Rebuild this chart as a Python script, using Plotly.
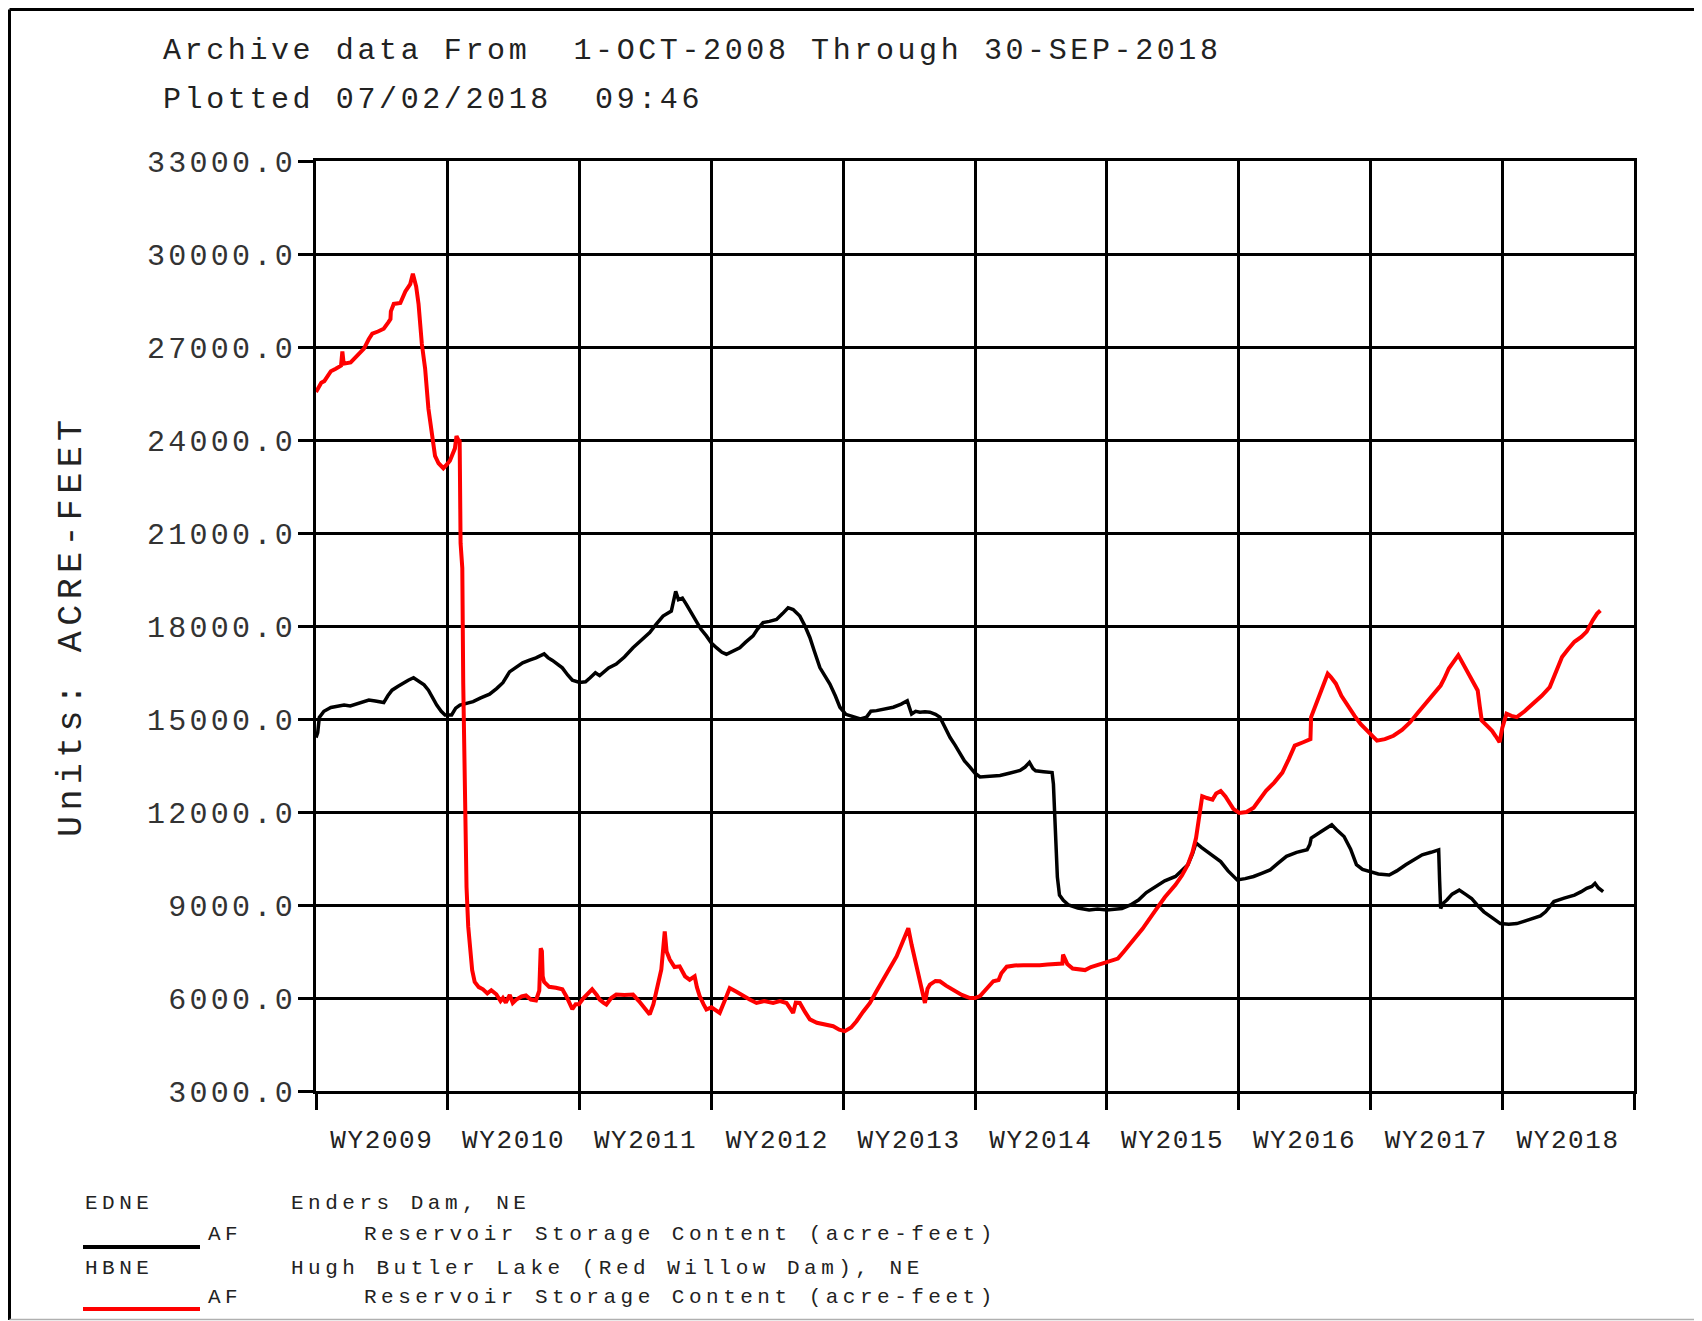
import plotly.graph_objects as go

# ---------------- data (water-year offset from 1-OCT-2008, acre-feet) ----------------
edne_t = [0.0, 0.013, 0.025, 0.06, 0.113, 0.16, 0.213, 0.26, 0.314, 0.36, 0.401, 0.45, 0.514, 0.545,
          0.577, 0.62, 0.665, 0.70, 0.74, 0.79, 0.82, 0.853, 0.88, 0.916, 0.95, 0.979, 1.029, 1.06,
          1.092, 1.14, 1.192, 1.25, 1.317, 1.37, 1.418, 1.468, 1.52, 1.568, 1.62, 1.669, 1.731, 1.76,
          1.794, 1.83, 1.869, 1.91, 1.945, 2.0, 2.045, 2.08, 2.12, 2.152, 2.22, 2.278, 2.34, 2.405,
          2.47, 2.532, 2.58, 2.633, 2.696, 2.715, 2.729, 2.75, 2.78, 2.81, 2.85, 2.886, 2.92, 2.962,
          3.0, 3.038, 3.08, 3.114, 3.16, 3.215, 3.26, 3.316, 3.35, 3.392, 3.44, 3.494, 3.54, 3.582,
          3.62, 3.671, 3.71, 3.747, 3.78, 3.823, 3.86, 3.899, 3.94, 3.975, 4.02, 4.076, 4.13, 4.177,
          4.21, 4.253, 4.32, 4.38, 4.44, 4.486, 4.50, 4.519, 4.55, 4.582, 4.62, 4.658, 4.70, 4.734,
          4.77, 4.81, 4.85, 4.886, 4.92, 4.962, 5.0, 5.038, 5.1, 5.19, 5.26, 5.342, 5.38, 5.413,
          5.44, 5.46, 5.52, 5.585, 5.595, 5.60, 5.608, 5.616, 5.625, 5.641, 5.67, 5.71, 5.78, 5.866,
          5.93, 6.0, 6.06, 6.115, 6.18, 6.24, 6.3, 6.365, 6.44, 6.521, 6.57, 6.615, 6.65, 6.677,
          6.72, 6.771, 6.82, 6.864, 6.92, 6.989, 7.05, 7.114, 7.18, 7.239, 7.30, 7.363, 7.44, 7.52,
          7.54, 7.551, 7.63, 7.707, 7.75, 7.8, 7.85, 7.894, 7.94, 7.988, 8.06, 8.143, 8.2, 8.268,
          8.33, 8.393, 8.46, 8.518, 8.525, 8.533, 8.55, 8.58, 8.62, 8.674, 8.72, 8.768, 8.81, 8.861,
          8.92, 8.986, 9.05, 9.111, 9.17, 9.236, 9.29, 9.329, 9.36, 9.392, 9.47, 9.548, 9.60, 9.641,
          9.68, 9.704, 9.73, 9.766]
edne_af = [14400, 14560, 15050, 15250, 15370, 15400, 15450, 15420, 15500, 15560, 15610, 15580, 15530, 15750,
           15930, 16050, 16170, 16250, 16330, 16170, 16100, 15930, 15700, 15450, 15250, 15130, 15130, 15350,
           15450, 15500, 15560, 15680, 15800, 15980, 16170, 16520, 16680, 16810, 16900, 16970, 17100, 16980,
           16890, 16780, 16650, 16420, 16250, 16180, 16200, 16330, 16490, 16400, 16650, 16770, 17000, 17300,
           17550, 17790, 18050, 18320, 18480, 18800, 19120, 18850, 18900, 18700, 18400, 18160, 17900, 17680,
           17450, 17300, 17150, 17090, 17200, 17300, 17480, 17680, 17900, 18110, 18150, 18210, 18400, 18590,
           18530, 18320, 18000, 17630, 17200, 16660, 16400, 16130, 15750, 15380, 15150, 15060, 15000, 15060,
           15250, 15270, 15330, 15380, 15480, 15590, 15400, 15160, 15250, 15220, 15230, 15220, 15150, 15060,
           14750, 14410, 14150, 13880, 13650, 13450, 13250, 13130, 13150, 13180, 13250, 13340, 13450, 13600,
           13400, 13330, 13300, 13270, 12900, 12350, 11500, 10730, 9900, 9320, 9150, 9000, 8900, 8840,
           8870, 8840, 8860, 8890, 9000, 9160, 9400, 9590, 9780, 9920, 10100, 10300, 10650, 11000,
           10850, 10680, 10550, 10400, 10100, 9810, 9850, 9920, 10030, 10130, 10350, 10570, 10700, 10780,
           10950, 11160, 11380, 11590, 11400, 11210, 10800, 10300, 10150, 10080, 10000, 9970, 10100, 10300,
           10450, 10620, 10700, 10780, 9800, 8890, 9050, 9160, 9350, 9480, 9350, 9210, 9000, 8780,
           8600, 8400, 8380, 8400, 8480, 8560, 8650, 8780, 8950, 9110, 9220, 9320, 9430, 9540,
           9600, 9700, 9550, 9430]

hbne_t = [0.0, 0.018, 0.04, 0.063, 0.09, 0.113, 0.15, 0.19, 0.2, 0.21, 0.263, 0.30, 0.33, 0.364,
          0.40, 0.427, 0.47, 0.514, 0.55, 0.565, 0.568, 0.59, 0.64, 0.678, 0.715, 0.735, 0.76, 0.778,
          0.803, 0.828, 0.853, 0.878, 0.903, 0.93, 0.966, 0.99, 1.016, 1.054, 1.066, 1.08, 1.09, 1.097,
          1.11, 1.117, 1.129, 1.142, 1.155, 1.167, 1.185, 1.204, 1.235, 1.267, 1.30, 1.33, 1.368, 1.40,
          1.418, 1.44, 1.47, 1.493, 1.52, 1.56, 1.593, 1.63, 1.669, 1.694, 1.705, 1.714, 1.72, 1.731,
          1.769, 1.82, 1.869, 1.90, 1.945, 1.97, 1.995, 2.03, 2.06, 2.095, 2.13, 2.152, 2.18, 2.203,
          2.24, 2.278, 2.34, 2.405, 2.45, 2.50, 2.532, 2.56, 2.582, 2.62, 2.646, 2.66, 2.684, 2.72,
          2.759, 2.80, 2.835, 2.873, 2.89, 2.911, 2.94, 2.962, 3.0, 3.063, 3.10, 3.139, 3.19, 3.241,
          3.29, 3.342, 3.40, 3.468, 3.52, 3.57, 3.62, 3.64, 3.671, 3.71, 3.747, 3.80, 3.848, 3.89,
          3.924, 3.97, 4.013, 4.06, 4.101, 4.15, 4.203, 4.25, 4.304, 4.35, 4.405, 4.45, 4.494, 4.52,
          4.544, 4.56, 4.582, 4.60, 4.62, 4.64, 4.658, 4.70, 4.734, 4.78, 4.835, 4.90, 4.962, 5.0,
          5.038, 5.09, 5.139, 5.179, 5.20, 5.241, 5.30, 5.366, 5.43, 5.491, 5.55, 5.62, 5.663, 5.668,
          5.70, 5.741, 5.79, 5.835, 5.88, 5.929, 6.0, 6.084, 6.13, 6.178, 6.193, 6.271, 6.365, 6.44,
          6.521, 6.57, 6.615, 6.65, 6.677, 6.70, 6.724, 6.76, 6.802, 6.83, 6.864, 6.90, 6.927, 6.96,
          7.005, 7.06, 7.114, 7.16, 7.208, 7.27, 7.332, 7.38, 7.426, 7.49, 7.545, 7.55, 7.58, 7.613,
          7.645, 7.676, 7.70, 7.738, 7.78, 7.832, 7.88, 7.925, 7.99, 8.05, 8.11, 8.175, 8.24, 8.3,
          8.36, 8.424, 8.48, 8.533, 8.56, 8.595, 8.667, 8.70, 8.736, 8.775, 8.814, 8.83, 8.845, 8.88,
          8.923, 8.95, 8.98, 9.0, 9.033, 9.07, 9.111, 9.17, 9.236, 9.30, 9.361, 9.41, 9.454, 9.50,
          9.548, 9.60, 9.641, 9.688, 9.72, 9.745]
hbne_af = [25550, 25660, 25850, 25900, 26100, 26220, 26300, 26400, 26860, 26460, 26500, 26650, 26800, 26950,
           27250, 27430, 27500, 27590, 27800, 27900, 28150, 28390, 28420, 28790, 29030, 29360, 28950, 28390,
           27100, 26300, 25010, 24210, 23490, 23250, 23090, 23200, 23330, 23730, 24130, 24000, 23970, 20670,
           19870, 16170, 12470, 9580, 8300, 7650, 6900, 6520, 6350, 6280, 6150, 6250, 6120, 5900,
           6000, 5850, 6100, 5840, 5950, 6050, 6080, 5950, 5920, 6240, 7600, 7510, 6700, 6520,
           6360, 6330, 6280, 6050, 5640, 5800, 5800, 6000, 6150, 6280, 6100, 5950, 5850, 5790,
           6000, 6110, 6100, 6110, 5900, 5650, 5470, 5800, 6170, 6920, 8150, 7500, 7240, 7000,
           7020, 6700, 6590, 6700, 6350, 6060, 5800, 5630, 5700, 5520, 5900, 6320, 6200, 6060,
           5950, 5840, 5900, 5840, 5900, 5840, 5520, 5850, 5840, 5550, 5310, 5200, 5150, 5120,
           5090, 4980, 4930, 5050, 5250, 5550, 5840, 6200, 6590, 6950, 7340, 7800, 8250, 7700,
           7240, 6900, 6590, 6200, 5840, 6300, 6430, 6550, 6540, 6400, 6270, 6100, 6000, 6000,
           6060, 6300, 6540, 6580, 6800, 7010, 7050, 7060, 7050, 7060, 7080, 7100, 7110, 7400,
           7100, 6950, 6920, 6900, 7000, 7060, 7170, 7270, 7500, 7750, 7860, 8230, 8800, 9250,
           9650, 9950, 10300, 10700, 11160, 11900, 12510, 12450, 12400, 12600, 12680, 12500, 12300, 12100,
           11970, 12000, 12140, 12400, 12680, 12950, 13270, 13700, 14140, 14250, 14350, 15060, 15400, 15710,
           16100, 16460, 16350, 16140, 15750, 15380, 15100, 14840, 14550, 14300, 14350, 14460, 14650, 14890,
           15200, 15540, 15800, 16080, 16300, 16630, 17060, 16800, 16570, 16250, 15920, 15400, 14950, 14800,
           14620, 14450, 14250, 14700, 15170, 15100, 15060, 15250, 15490, 15750, 16030, 16500, 17000, 17250,
           17490, 17650, 17820, 18190, 18400, 18500]

y_ticks = [3000, 6000, 9000, 12000, 15000, 18000, 21000, 24000, 27000, 30000, 33000]
wy_boundaries = list(range(0, 11))
wy_label_pos = [0.5, 1.5, 2.5, 3.5, 4.5, 5.5, 6.5, 7.5, 8.5, 9.5]
wy_labels = ["WY2009", "WY2010", "WY2011", "WY2012", "WY2013",
             "WY2014", "WY2015", "WY2016", "WY2017", "WY2018"]

title_lines = ["Archive data From  1-OCT-2008 Through 30-SEP-2018",
               "Plotted 07/02/2018  09:46"]
units_label = "Units: ACRE-FEET"
series_ids = ["EDNE", "HBNE"]
series_names = ["Enders Dam, NE", "Hugh Butler Lake (Red Willow Dam), NE"]
series_param = "AF"
series_desc = "Reservoir Storage Content (acre-feet)"
series_colors = ["#000000", "#ff0000"]

# ---------------- layout geometry (page pixels; page body adds an 8px offset) ----------------
OFF = 8
W, H = 1702 - OFF, 1321 - OFF
L, R, T, B = 316 - OFF, 1634 - OFF, 161 - OFF, 1091 - OFF
FONT = "Liberation Mono, Courier New, monospace"


def px(x):  # page x -> paper
    return (x - OFF - L) / (R - L)


def py(y):  # page y -> paper
    return (B - (y - OFF)) / (B - T)


def sp(s, ls):
    return f'<span style="letter-spacing:{ls}px">{s}</span>'


fig = go.Figure()
fig.add_trace(go.Scatter(x=edne_t, y=edne_af, mode="lines",
                         line=dict(color=series_colors[0], width=3.5), showlegend=False))
fig.add_trace(go.Scatter(x=hbne_t, y=hbne_af, mode="lines",
                         line=dict(color=series_colors[1], width=4), showlegend=False))

fig.update_layout(
    width=W, height=H, autosize=False,
    margin=dict(l=L, r=W - R, t=T, b=H - B, pad=0),
    paper_bgcolor="white", plot_bgcolor="white",
    font=dict(family=FONT, color="#222222"),
    showlegend=False,
)

fig.update_xaxes(
    range=[0, 10], showline=True, mirror=True, linecolor="black", linewidth=3,
    tickvals=wy_label_pos, ticktext=[sp(s, 1.6) for s in wy_labels], ticks="",
    showgrid=False, zeroline=False, ticklabelstandoff=23,
    tickfont=dict(family=FONT, size=26, color="#222222"),
    minor=dict(tickvals=wy_boundaries, ticks="outside", ticklen=16, tickwidth=3,
               tickcolor="black", showgrid=True, gridcolor="black", gridwidth=3),
)
fig.update_yaxes(
    range=[3000, 33000], showline=True, mirror=True, linecolor="black", linewidth=3,
    tickvals=y_ticks, ticktext=[sp(f"{v:.1f}", 3.3) for v in y_ticks],
    ticks="outside", ticklen=15, tickwidth=3, tickcolor="black",
    showgrid=True, gridcolor="black", gridwidth=3, zeroline=False,
    ticklabelstandoff=-4,
    tickfont=dict(family=FONT, size=30, color="#333333"),
)

ann = []
ann.append(dict(text=sp(title_lines[0], 3.6), x=px(161), y=py(51), xanchor="left", yanchor="middle",
                font=dict(family=FONT, size=30, color="#222222")))
ann.append(dict(text=sp(title_lines[1], 3.6), x=px(161), y=py(100), xanchor="left", yanchor="middle",
                font=dict(family=FONT, size=30, color="#222222")))
ann.append(dict(text=sp(units_label, 5.4), x=px(72), y=0.5, textangle=-90,
                xanchor="center", yanchor="middle",
                font=dict(family=FONT, size=35, color="#222222")))

rows = [(1203, 1234, 1247), (1268, 1297, 1309)]
for i in range(2):
    r_id, r_desc, r_line = rows[i]
    lf = dict(family=FONT, size=21, color="#222222")
    ann.append(dict(text=sp(series_ids[i], 4.5), x=px(83), y=py(r_id), xanchor="left", yanchor="middle", font=lf))
    ann.append(dict(text=sp(series_names[i], 4.5), x=px(289), y=py(r_id), xanchor="left", yanchor="middle", font=lf))
    ann.append(dict(text=sp(series_param, 4.5), x=px(206), y=py(r_desc), xanchor="left", yanchor="middle", font=lf))
    ann.append(dict(text=sp(series_desc, 4.5), x=px(362), y=py(r_desc), xanchor="left", yanchor="middle", font=lf))

for a in ann:
    a.update(xref="paper", yref="paper", showarrow=False)
fig.update_layout(annotations=ann)

shapes = []
for i in range(2):
    r_line = rows[i][2]
    shapes.append(dict(type="line", xref="paper", yref="paper", x0=px(83), x1=px(200),
                       y0=py(r_line), y1=py(r_line), line=dict(color=series_colors[i], width=4)))
# outer frame (page x=7 / y=8 sit at the very edge of the figure)
shapes.append(dict(type="line", xref="paper", yref="paper", x0=px(OFF + 1.5), x1=px(OFF + 1.5),
                   y0=py(1320), y1=py(OFF + 1.5), line=dict(color="black", width=3)))
shapes.append(dict(type="line", xref="paper", yref="paper", x0=px(OFF + 1.5), x1=px(1702), y0=py(OFF + 1.5),
                   y1=py(OFF + 1.5), line=dict(color="black", width=3)))
shapes.append(dict(type="line", xref="paper", yref="paper", x0=px(OFF + 1.5), x1=px(1702), y0=py(1319.5),
                   y1=py(1319.5), line=dict(color="#b0b0b0", width=1.5)))
fig.update_layout(shapes=shapes)

fig.write_html("out.html")
